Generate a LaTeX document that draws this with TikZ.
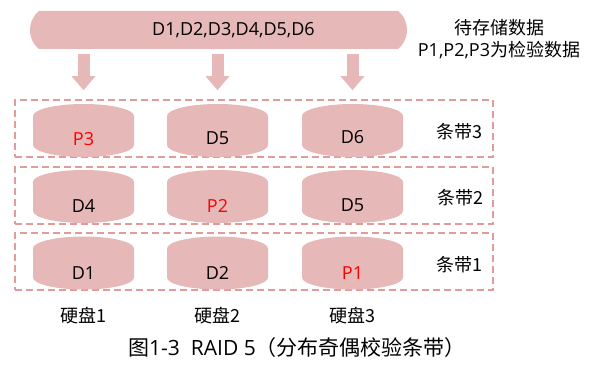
\documentclass[tikz,border=0pt]{standalone}
\usepackage{fontspec}
\setmainfont{Open Sans}
\newfontfamily\cjk{Noto Sans CJK SC}
\usetikzlibrary{arrows.meta,shapes.misc}
\definecolor{diskfill}{HTML}{E6B9B8}
\definecolor{stripeline}{HTML}{E09C98}
\definecolor{parityred}{HTML}{FF0000}

\begin{document}
\begin{tikzpicture}[x=1pt, y=-1pt,
		every node/.style={font=\fontsize{18}{22}\selectfont},
		disk/.style={minimum width=101pt, minimum height=53pt, inner sep=0pt,
			path picture={\fill[diskfill] ([yshift=-12pt]path picture bounding box.north west)
				arc[start angle=180, end angle=0, x radius=50.5pt, y radius=12pt]
				-- ([yshift=12pt]path picture bounding box.south east)
				arc[start angle=0, end angle=-180, x radius=50.5pt, y radius=12pt] -- cycle;}},
		stripe/.style={draw=stripeline, line width=1.5pt, dash pattern=on 7pt off 4pt,
			minimum width=478pt, minimum height=57pt, inner sep=0pt},
		blockarrow/.style={draw=diskfill, line width=12pt, -{Triangle[length=14pt, width=23pt]}},
		parity/.style={text=parityred}]
		
		\useasboundingbox (0,0) rectangle (591,379);
		
		% data bar
		\node[rounded rectangle, rounded rectangle arc length=100, fill=diskfill,
			minimum width=377pt, minimum height=38pt, inner sep=0pt] (data) at (218.5,30)
			{\hspace*{30pt}D1,D2,D3,D4,D5,D6};
		\node[align=center] (info) at (499,39) {{\cjk 待存储数据}\\P1,P2,P3{\cjk 为检验数据}};
		
		% stripes
		\node[stripe] (row3) at (254,128.5) {};
		\node[stripe] (row2) at (254,195.5) {};
		\node[stripe] (row1) at (254,261.5) {};
		
		% disks
		\node[disk] (d13) at (83.5,130.5) {};
		\node[disk] (d23) at (217.5,130.5) {};
		\node[disk] (d33) at (352.5,130.5) {};
		\node[disk] (d12) at (83.5,196.5) {};
		\node[disk] (d22) at (217.5,196.5) {};
		\node[disk] (d32) at (352.5,196.5) {};
		\node[disk] (d11) at (83.5,263) {};
		\node[disk] (d21) at (217.5,263) {};
		\node[disk] (d31) at (352.5,263) {};
		
		% blocks on disks
		\node[parity] (b13) at ([yshift=-9pt]d13.center) {P3};
		\node (b23) at ([yshift=-8pt]d23.center) {D5};
		\node (b33) at ([yshift=-7pt]d33.center) {D6};
		\node (b12) at ([yshift=-10pt]d12.center) {D4};
		\node[parity] (b22) at ([yshift=-9pt]d22.center) {P2};
		\node (b32) at ([yshift=-9pt]d32.center) {D5};
		\node (b11) at ([yshift=-10pt]d11.center) {D1};
		\node (b21) at ([yshift=-10pt]d21.center) {D2};
		\node[parity] (b31) at ([yshift=-10pt]d31.center) {P1};
		
		% arrows
		\draw[blockarrow] ([yshift=-5pt]data.south -| d13) -- ([yshift=9pt]row3.north -| d13);
		\draw[blockarrow] ([yshift=-5pt]data.south -| d23) -- ([yshift=9pt]row3.north -| d23);
		\draw[blockarrow] ([yshift=-5pt]data.south -| d33) -- ([yshift=9pt]row3.north -| d33);
		
		% stripe labels
		\node (s3) at (459,132) {\cjk 条带3};
		\node (s2) at (460,198) {\cjk 条带2};
		\node (s1) at (459,265) {\cjk 条带1};
		
		% disk names
		\node (h1) at (83.5,316) {\cjk 硬盘1};
		\node (h2) at (217.5,316) {\cjk 硬盘2};
		\node (h3) at (352.5,316) {\cjk 硬盘3};
		
		% caption
		\node[font=\fontsize{21}{25}\selectfont] (cap) at (297,348)
			{{\cjk 图}1-3\ \ RAID 5{\cjk （分布奇偶校验条带）}};
		
	\end{tikzpicture}
\end{document}
